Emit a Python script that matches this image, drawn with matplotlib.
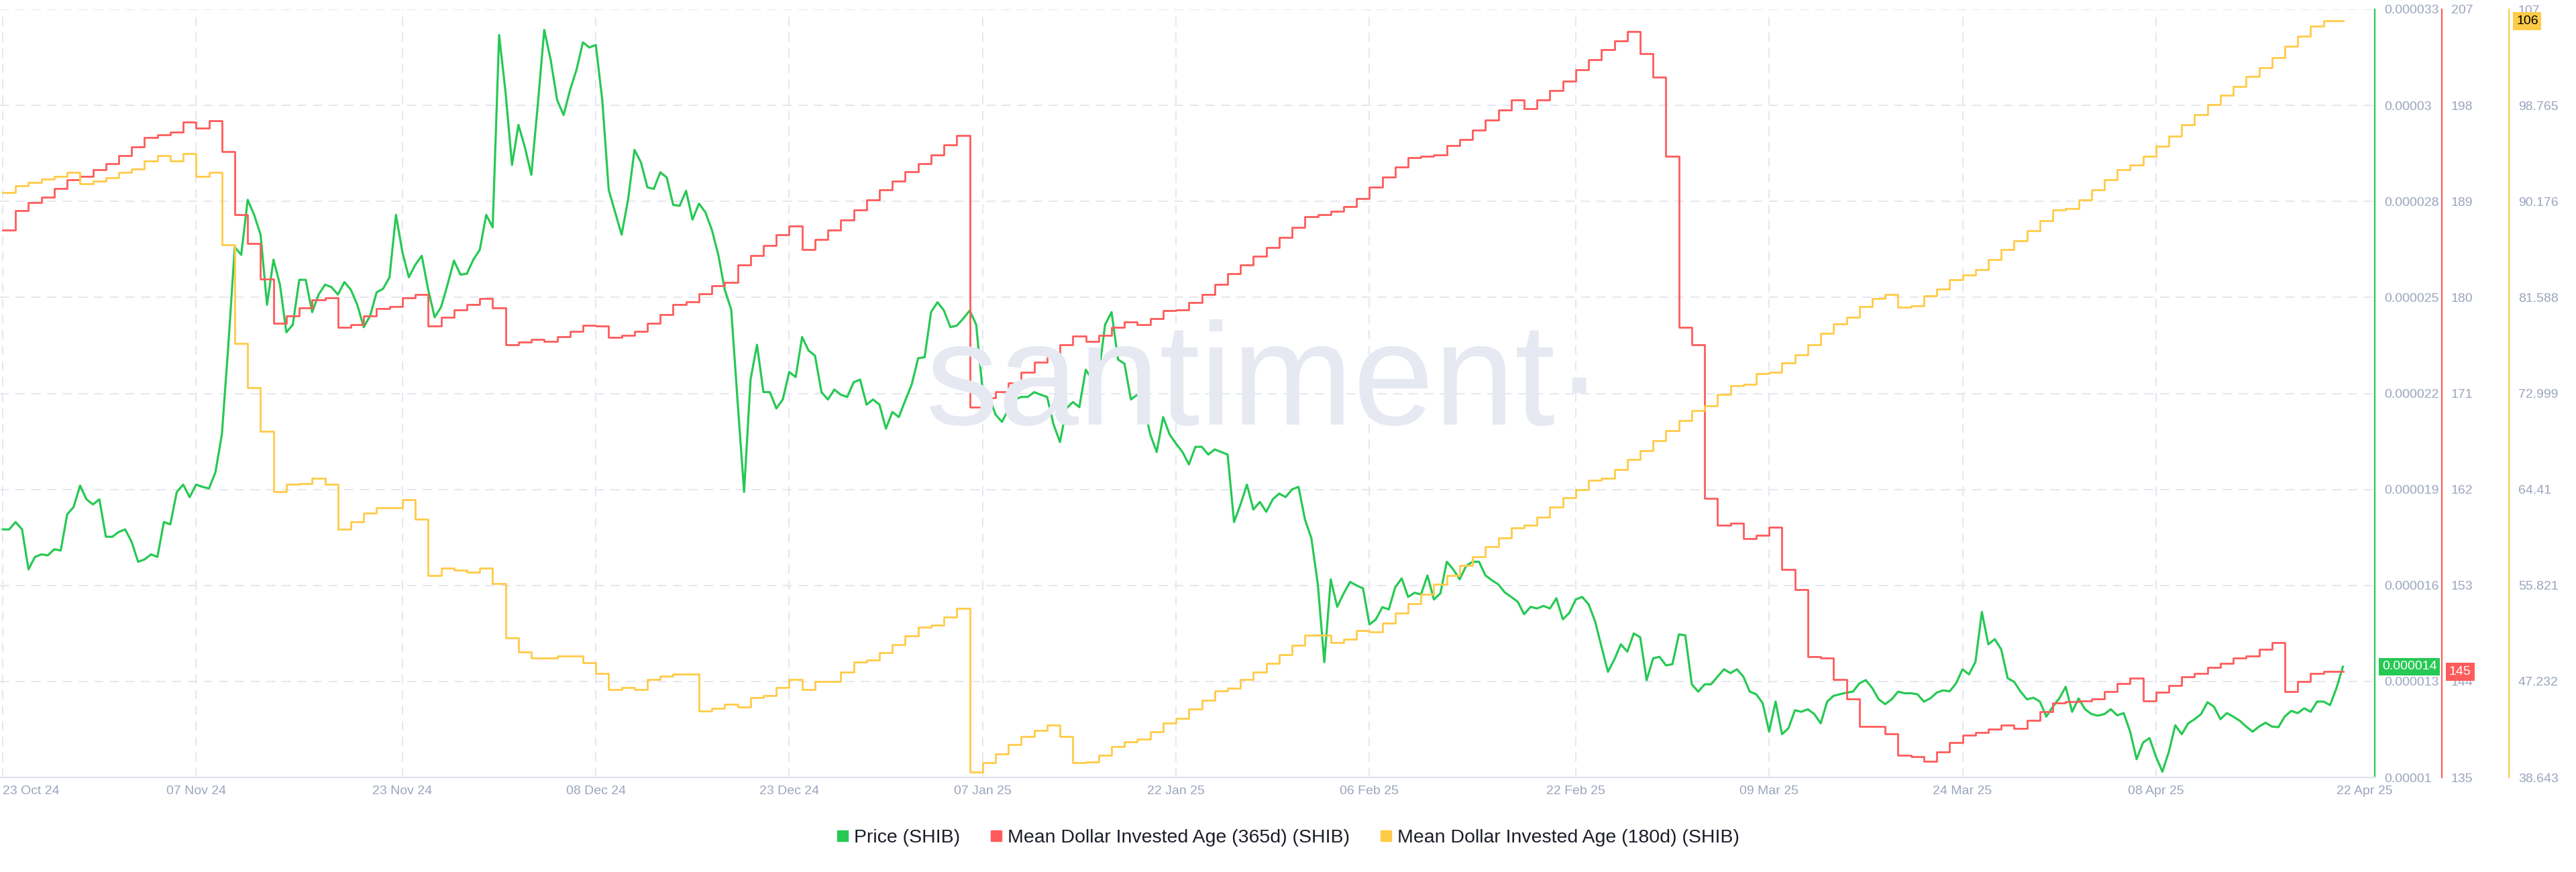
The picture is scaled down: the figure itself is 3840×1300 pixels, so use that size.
import matplotlib
matplotlib.use("Agg")
import matplotlib.pyplot as plt
import matplotlib.transforms as mtransforms
from matplotlib.lines import Line2D
import numpy as np
import pandas as pd

# ---- data ----
start = pd.Timestamp("2024-10-23")

# SHIB price, twice a day, in units of 1e-5 USD
price_e5 = [
    1.775, 1.775, 1.798, 1.775, 1.650, 1.689, 1.697, 1.694, 1.713, 1.709,
    1.822, 1.845, 1.912, 1.869, 1.853, 1.869, 1.752, 1.752, 1.767, 1.775,
    1.736, 1.674, 1.681, 1.697, 1.689, 1.798, 1.791, 1.892, 1.915, 1.876,
    1.915, 1.908, 1.903, 1.954, 2.072, 2.352, 2.657, 2.633, 2.805, 2.758,
    2.696, 2.477, 2.618, 2.540, 2.391, 2.415, 2.555, 2.555, 2.454, 2.509,
    2.540, 2.532, 2.509, 2.548, 2.524, 2.477, 2.407, 2.443, 2.516, 2.527,
    2.563, 2.758, 2.641, 2.563, 2.602, 2.630, 2.524, 2.438, 2.470, 2.540,
    2.615, 2.571, 2.574, 2.618, 2.649, 2.758, 2.719, 3.320, 3.141, 2.914,
    3.039, 2.969, 2.883, 3.102, 3.336, 3.242, 3.117, 3.070, 3.148, 3.211,
    3.297, 3.281, 3.289, 3.117, 2.836, 2.766, 2.696, 2.805, 2.961, 2.922,
    2.844, 2.839, 2.891, 2.875, 2.789, 2.786, 2.833, 2.743, 2.793, 2.766,
    2.711, 2.633, 2.524, 2.462, 2.173, 1.892, 2.243, 2.352, 2.204, 2.204,
    2.153, 2.181, 2.267, 2.251, 2.376, 2.334, 2.318, 2.204, 2.181, 2.212,
    2.196, 2.189, 2.235, 2.243, 2.165, 2.181, 2.165, 2.090, 2.142, 2.126,
    2.178, 2.228, 2.310, 2.313, 2.454, 2.485, 2.459, 2.407, 2.412, 2.434,
    2.459, 2.415, 2.209, 2.189, 2.134, 2.111, 2.150, 2.181, 2.189, 2.189,
    2.204, 2.196, 2.189, 2.103, 2.048, 2.153, 2.173, 2.157, 2.274, 2.243,
    2.259, 2.415, 2.454, 2.306, 2.293, 2.181, 2.196, 2.165, 2.072, 2.017,
    2.126, 2.072, 2.043, 2.017, 1.978, 2.033, 2.033, 2.009, 2.025, 2.017,
    2.009, 1.798, 1.853, 1.915, 1.837, 1.861, 1.830, 1.869, 1.887, 1.876,
    1.900, 1.908, 1.806, 1.747, 1.603, 1.360, 1.619, 1.533, 1.575, 1.611,
    1.600, 1.591, 1.478, 1.494, 1.532, 1.525, 1.594, 1.622, 1.564, 1.577,
    1.572, 1.631, 1.556, 1.575, 1.674, 1.650, 1.619, 1.661, 1.674, 1.674,
    1.631, 1.616, 1.603, 1.578, 1.564, 1.549, 1.510, 1.533, 1.528, 1.536,
    1.528, 1.560, 1.494, 1.514, 1.556, 1.564, 1.541, 1.488, 1.408, 1.330,
    1.369, 1.416, 1.393, 1.450, 1.438, 1.304, 1.372, 1.377, 1.350, 1.354,
    1.447, 1.444, 1.291, 1.268, 1.291, 1.291, 1.315, 1.338, 1.326, 1.338,
    1.315, 1.268, 1.260, 1.232, 1.143, 1.237, 1.135, 1.154, 1.210, 1.205,
    1.213, 1.198, 1.169, 1.237, 1.255, 1.260, 1.265, 1.268, 1.294, 1.304,
    1.279, 1.244, 1.229, 1.244, 1.268, 1.263, 1.263, 1.260, 1.237, 1.247,
    1.265, 1.272, 1.269, 1.294, 1.338, 1.322, 1.361, 1.517, 1.416, 1.432,
    1.400, 1.310, 1.299, 1.268, 1.244, 1.249, 1.237, 1.190, 1.221, 1.247,
    1.283, 1.205, 1.247, 1.213, 1.198, 1.193, 1.198, 1.213, 1.194, 1.201,
    1.143, 1.057, 1.109, 1.123, 1.065, 1.018, 1.080, 1.163, 1.135, 1.169,
    1.182, 1.198, 1.235, 1.221, 1.182, 1.201, 1.190, 1.177, 1.159, 1.143,
    1.159, 1.171, 1.159, 1.157, 1.191, 1.208, 1.201, 1.216, 1.205, 1.237,
    1.237, 1.226, 1.279, 1.346,
]

# Mean Dollar Invested Age (365d), daily
mdia_365 = [
    186.34, 188.12, 188.87, 189.39, 190.23, 191.03, 191.35, 191.96, 192.52, 193.27,
    194.11, 195.00, 195.24, 195.52, 196.41, 195.85, 196.55, 193.69, 187.75, 185.03,
    181.75, 177.59, 178.29, 178.99, 179.79, 179.98, 177.21, 177.45, 178.29, 178.95,
    179.13, 179.93, 180.26, 177.35, 178.15, 178.85, 179.32, 179.88, 179.04, 175.57,
    175.81, 176.04, 175.86, 176.32, 176.84, 177.40, 177.31, 176.23, 176.42, 176.79,
    177.59, 178.38, 179.32, 179.60, 180.35, 181.10, 181.43, 183.07, 183.91, 184.84,
    185.87, 186.67, 184.47, 185.41, 186.34, 187.28, 188.22, 189.15, 190.09, 190.93,
    191.77, 192.52, 193.37, 194.30, 195.15, 169.72, 170.56, 171.13, 171.97, 173.00,
    173.94, 174.73, 175.57, 176.37, 175.86, 176.42, 177.21, 177.68, 177.45, 178.01,
    178.76, 178.85, 179.55, 180.26, 181.19, 182.22, 183.07, 183.86, 184.70, 185.64,
    186.58, 187.56, 187.75, 188.08, 188.54, 189.29, 190.32, 191.26, 192.20, 193.13,
    193.23, 193.37, 194.21, 194.77, 195.71, 196.64, 197.58, 198.52, 197.67, 198.52,
    199.36, 200.30, 201.33, 202.26, 203.20, 204.04, 204.93, 202.87, 200.62, 193.23,
    177.21, 175.57, 161.15, 158.63, 158.86, 157.41, 157.69, 158.44, 154.51, 152.63,
    146.31, 146.17, 144.21, 142.33, 139.76, 139.76, 139.06, 137.09, 136.95, 136.48,
    137.42, 138.26, 138.96, 139.20, 139.52, 139.90, 139.62, 140.37, 141.16, 141.96,
    142.10, 142.19, 142.33, 143.03, 143.83, 144.30, 142.19, 142.99, 143.60, 144.44,
    144.77, 145.33, 145.70, 146.17, 146.36, 147.01, 147.62, 143.03, 143.97, 144.77,
    144.91, 144.91,
]

# Mean Dollar Invested Age (180d), daily
mdia_180 = [
    90.99, 91.57, 91.88, 92.19, 92.42, 92.77, 91.75, 92.01, 92.28, 92.77,
    93.09, 93.80, 94.25, 93.80, 94.43, 92.42, 92.77, 86.30, 77.45, 73.52,
    69.58, 64.18, 64.85, 64.94, 65.38, 64.85, 60.83, 61.50, 62.26, 62.75,
    62.75, 63.51, 61.72, 56.71, 57.38, 57.16, 56.98, 57.34, 56.00, 51.13,
    49.88, 49.34, 49.34, 49.52, 49.52, 48.89, 47.96, 46.53, 46.66, 46.53,
    47.42, 47.73, 47.87, 47.87, 44.56, 44.83, 45.19, 44.92, 45.77, 45.99,
    46.71, 47.42, 46.53, 47.20, 47.24, 48.09, 48.94, 49.12, 49.83, 50.55,
    51.31, 52.07, 52.25, 53.01, 53.77, 39.15, 39.96, 40.72, 41.57, 42.28,
    42.86, 43.31, 42.33, 39.96, 40.05, 40.63, 41.39, 41.83, 42.06, 42.73,
    43.53, 43.93, 44.74, 45.54, 46.39, 46.62, 47.42, 48.09, 48.85, 49.65,
    50.46, 51.35, 51.35, 50.68, 50.99, 51.80, 51.67, 52.42, 53.32, 54.21,
    55.02, 55.91, 56.71, 57.61, 58.37, 59.26, 60.07, 60.96, 61.18, 61.94,
    62.84, 63.64, 64.40, 65.20, 65.38, 66.19, 67.08, 67.89, 68.78, 69.67,
    70.57, 71.46, 71.91, 72.89, 73.69, 73.78, 74.77, 74.90, 75.70, 76.46,
    77.36, 78.34, 79.24, 79.82, 80.80, 81.51, 81.83, 80.71, 80.84, 81.74,
    82.36, 83.17, 83.61, 84.06, 84.95, 85.85, 86.65, 87.55, 88.44, 89.42,
    89.51, 90.32, 91.21, 92.10, 93.00, 93.44, 94.20, 95.14, 96.04, 97.02,
    97.91, 98.81, 99.70, 100.46, 101.35, 102.16, 103.05, 104.03, 104.97, 105.87,
    106.31, 106.31,
]

x_tick_labels = ["23 Oct 24", "07 Nov 24", "23 Nov 24", "08 Dec 24", "23 Dec 24",
                 "07 Jan 25", "22 Jan 25", "06 Feb 25", "22 Feb 25", "09 Mar 25",
                 "24 Mar 25", "08 Apr 25", "22 Apr 25"]
price_tick_labels = ["0.00001", "0.000013", "0.000016", "0.000019", "0.000022",
                     "0.000025", "0.000028", "0.00003", "0.000033"]
age365_ticks = [135, 144, 153, 162, 171, 180, 189, 198, 207]
age180_tick_labels = ["38.643", "47.232", "55.821", "64.41", "72.999",
                      "81.588", "90.176", "98.765", "107"]
legend_labels = ["Price (SHIB)", "Mean Dollar Invested Age (365d) (SHIB)",
                 "Mean Dollar Invested Age (180d) (SHIB)"]
last_badges = ["0.000014", "145", "106"]

# ---- styling ----
GREEN = "#26c953"
RED = "#ff5b5b"
YELLOW = "#ffcb47"
TICK = "#9ba5be"
GRID = "#e4e7ef"
plt.rcParams["font.family"] = ["Liberation Sans", "DejaVu Sans"]

price = np.array(price_e5) * 1e-5
t_price = start + pd.to_timedelta(np.arange(len(price)) * 0.5, unit="D")
t_days = start + pd.to_timedelta(np.arange(len(mdia_365)), unit="D")
t_days = t_days.append(pd.DatetimeIndex([start + pd.Timedelta(days=181.5)]))
age365 = mdia_365 + [mdia_365[-1]]
age180 = mdia_180 + [mdia_180[-1]]

fig = plt.figure(figsize=(38.4, 13), dpi=100)
ax = fig.add_axes([0.0, 141 / 1300, 3540 / 3840, 1145 / 1300])
ax_r = ax.twinx()
ax_y = ax.twinx()
ax_r.spines["right"].set_position(("axes", 1 + 100 / 3540))
ax_y.spines["right"].set_position(("axes", 1 + 200 / 3540))

# watermark
fig.text(1380 / 3840, (1300 - 633) / 1300, "santiment\u00b7", fontsize=156,
         color="#e6e9f2", ha="left", va="baseline", zorder=0)

ax.plot(t_price, price, color=GREEN, lw=2.3, zorder=3)
ax_r.plot(t_days, age365, color=RED, lw=2.0, drawstyle="steps-post")
ax_y.plot(t_days, age180, color=YELLOW, lw=2.0, drawstyle="steps-post")

# x axis
ax.set_xlim(start - pd.Timedelta(days=0.21), start + pd.Timedelta(days=183.97))
xt = pd.to_datetime(x_tick_labels, format="%d %b %y")
ax.set_xticks(xt)
ax.set_xticklabels(x_tick_labels)
ax.tick_params(axis="x", length=0, pad=9, labelsize=14, labelcolor=TICK)
xlabs = ax.get_xticklabels()
xlabs[0].set_ha("left")
xlabs[-1].set_ha("left")

# y axes
ax.set_ylim(1.0e-5, 3.4e-5)
ax.set_yticks(np.linspace(1.0e-5, 3.4e-5, 9))
ax.set_yticklabels(price_tick_labels)
ax_r.set_ylim(135, 207)
ax_r.set_yticks(age365_ticks)
ax_y.set_ylim(38.643, 107.355)
ax_y.set_yticks(np.linspace(38.643, 107.355, 9))
ax_y.set_yticklabels(age180_tick_labels)
ax.yaxis.tick_right()
for a in (ax, ax_r, ax_y):
    a.tick_params(axis="y", length=0, pad=10, labelsize=14, labelcolor=TICK)
    a.spines["top"].set_visible(False)
    a.spines["left"].set_visible(False)
    a.spines["bottom"].set_visible(False)
ax.spines["right"].set_color(GREEN)
ax_r.spines["right"].set_color(RED)
ax_y.spines["right"].set_color(YELLOW)
for a in (ax, ax_r, ax_y):
    a.spines["right"].set_linewidth(1.6)
ax.spines["bottom"].set_visible(True)
ax.spines["bottom"].set_color("#dfe2ec")
ax.spines["bottom"].set_linewidth(1.6)

# grid
ax.grid(True, axis="both", color=GRID, lw=1.4, dashes=(7, 5), zorder=0)
ax.get_xgridlines()[-1].set_visible(False)
ax.set_axisbelow(True)

# last value badges
blend_p = mtransforms.blended_transform_factory(ax.transAxes, ax.transData)
blend_r = mtransforms.blended_transform_factory(ax.transAxes, ax_r.transData)
blend_y = mtransforms.blended_transform_factory(ax.transAxes, ax_y.transData)
ax_y.text(1 + 11 / 3540, price[-1], last_badges[0], transform=blend_p, ha="left",
          va="center", fontsize=14, color="white", zorder=10, clip_on=False,
          bbox=dict(boxstyle="square,pad=0.25", fc=GREEN, ec="none"))
ax_y.text(1 + 111 / 3540, mdia_365[-1], last_badges[1], transform=blend_r, ha="left",
          va="center", fontsize=14, color="white", zorder=10, clip_on=False,
          bbox=dict(boxstyle="square,pad=0.25", fc=RED, ec="none"))
ax_y.text(1 + 211 / 3540, mdia_180[-1], last_badges[2], transform=blend_y, ha="left",
          va="center", fontsize=14, color="black", zorder=10, clip_on=False,
          bbox=dict(boxstyle="square,pad=0.25", fc=YELLOW, ec="none"))

# legend
handles = [Line2D([], [], marker="s", ls="none", ms=12, color=c)
           for c in (GREEN, RED, YELLOW)]
fig.legend(handles, legend_labels, loc="center", bbox_to_anchor=(0.5, 51 / 1300),
           ncol=3, frameon=False, fontsize=20.5, handlelength=0.6,
           handletextpad=0.3, columnspacing=1.6, labelcolor="#1b1d28")

fig.savefig("out.png", dpi=100)
